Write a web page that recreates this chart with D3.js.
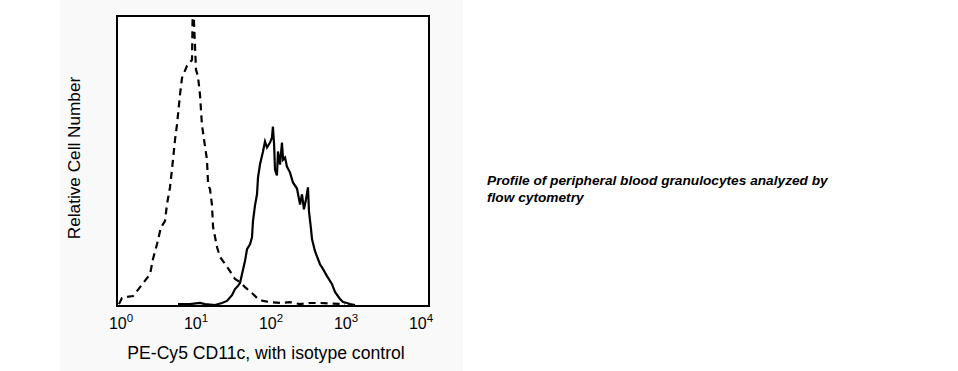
<!DOCTYPE html>
<html>
<head>
<meta charset="utf-8">
<script src="https://cdn.jsdelivr.net/npm/d3@7"></script>
<style>
  body { margin: 0; background: #ffffff; }
  svg { display: block; }
</style>
</head>
<body>
<div id="chart"></div>
<script>
// isotype control (dashed) - intensity / relative count
const isoX = [0.94, 1.03, 1.2, 1.45, 1.85, 2.44, 2.67, 3.02, 3.41, 3.86, 4.1, 4.5, 4.94, 5.25, 5.58, 6.12, 6.51, 7.59, 8.32, 8.85, 9.12, 9.4, 10.0, 10.6, 11.3, 12.0, 12.8, 14.0, 14.5, 15.4, 16.3, 16.9, 19.1, 20.9, 22.9, 25.1, 28.4, 33.1, 38.6, 45.0, 57.5, 67.1, 78.2, 97, 132, 179, 244, 331, 450, 970];
const isoY = [0.3, 2.4, 2.8, 3.1, 6.6, 10.7, 15.9, 21.0, 26.9, 29.0, 34.8, 40.7, 50.3, 57.2, 62.4, 72.8, 78.6, 82.8, 84.1, 84.8, 110, 98, 81.4, 79.3, 72.8, 62.4, 57.2, 50.3, 41.7, 40.0, 34.8, 26.9, 20.0, 16.6, 15.2, 13.8, 11.7, 9.0, 7.9, 6.2, 3.8, 2.1, 1.4, 1.0, 0.7, 1.0, 0.3, 0.7, 0.7, 0.3];

// PE-Cy5 CD11c (solid)
const cdX = [5.75, 8.3, 11.3, 13.2, 17.9, 22.2, 25.9, 30.2, 33.1, 36.3, 38.6, 41.1, 45.0, 47.9, 52.5, 55.8, 57.5, 61.2, 65.1, 67.1, 71.3, 78.2, 83.2, 88.5, 97, 103, 106, 110, 113, 120, 124, 132, 140, 145, 154, 163, 179, 196, 222, 244, 259, 275, 293, 311, 321, 342, 352, 386, 450, 494, 558, 651, 713, 832, 912, 1030, 1130, 1320];
const cdY = [0.3, 0.3, 0.7, 0.3, 0, 0.7, 1.4, 3.4, 5.5, 6.6, 7.6, 10.7, 15.2, 19.3, 21.0, 23.4, 29.0, 34.5, 38.3, 44.1, 48.6, 53.1, 56.6, 54.5, 56.2, 57.9, 61.7, 55.5, 46.9, 44.8, 53.1, 48.6, 56.2, 50.3, 51.0, 47.9, 45.9, 42.4, 40.3, 34.8, 38.3, 33.1, 36.6, 40.7, 32.4, 26.2, 22.8, 18.6, 14.1, 12.4, 10.0, 7.2, 4.5, 2.1, 1.0, 0.7, 0.3, 0];

const tickVals = [1, 10, 100, 1000, 10000];
const tickExp = ["0", "1", "2", "3", "4"];

const xTitle = "PE-Cy5 CD11c, with isotype control";
const yTitle = "Relative Cell Number";
const caption = ["Profile of peripheral blood granulocytes analyzed by", "flow cytometry"];

const W = 958, H = 371;
const box = { left: 117, top: 16, right: 429, bottom: 306 };

const svg = d3.select("#chart").append("svg")
    .attr("width", W)
    .attr("height", H);

// grey panel behind the plot
svg.append("rect")
    .attr("x", 60).attr("y", 0)
    .attr("width", 403).attr("height", H)
    .attr("fill", "#f9f9f9");

// SCALES
const x = d3.scaleLog()
    .domain([1, 10000])
    .range([121, 421]);

const y = d3.scaleLinear()
    .domain([0, 100])
    .range([box.bottom - 1, box.top]);

svg.append("clipPath").attr("id", "clip")
    .append("rect")
    .attr("x", box.left).attr("y", box.top)
    .attr("width", box.right - box.left)
    .attr("height", box.bottom - box.top);

svg.append("rect")
    .attr("x", box.left).attr("y", box.top)
    .attr("width", box.right - box.left)
    .attr("height", box.bottom - box.top)
    .attr("fill", "#ffffff");

const line = d3.line()
    .x(d => x(d[0]))
    .y(d => y(d[1]));

const plot = svg.append("g").attr("clip-path", "url(#clip)");

plot.append("path")
    .datum(d3.zip(isoX, isoY))
    .attr("d", line)
    .attr("fill", "none")
    .attr("stroke", "#000")
    .attr("stroke-width", 2.2)
    .attr("stroke-dasharray", "7,5");

plot.append("path")
    .datum(d3.zip(cdX, cdY))
    .attr("d", line)
    .attr("fill", "none")
    .attr("stroke", "#000")
    .attr("stroke-width", 2.2);

// frame
svg.append("rect")
    .attr("x", box.left).attr("y", box.top)
    .attr("width", box.right - box.left)
    .attr("height", box.bottom - box.top)
    .attr("fill", "none")
    .attr("stroke", "#000")
    .attr("stroke-width", 2);

// tick labels 10^n
const font = "'Liberation Sans', Arial, sans-serif";
const ticks = svg.append("g").attr("font-family", font).attr("fill", "#000");
tickVals.forEach((v, i) => {
    const t = ticks.append("text")
        .attr("x", x(v))
        .attr("y", 329)
        .attr("text-anchor", "middle")
        .attr("font-size", 16);
    t.append("tspan").text("10");
    t.append("tspan")
        .attr("dy", -7)
        .attr("font-size", 11.5)
        .text(tickExp[i]);
});

svg.append("text")
    .attr("x", 266).attr("y", 359)
    .attr("text-anchor", "middle")
    .attr("font-family", font)
    .attr("font-size", 17.6)
    .text(xTitle);

svg.append("text")
    .attr("transform", "translate(80,158) rotate(-90)")
    .attr("text-anchor", "middle")
    .attr("font-family", font)
    .attr("font-size", 17.2)
    .text(yTitle);

svg.append("g")
    .selectAll("text")
    .data(caption)
    .join("text")
    .attr("x", 487)
    .attr("y", (d, i) => 185 + i * 17)
    .attr("font-family", font)
    .attr("font-size", 13.7)
    .attr("font-weight", "bold")
    .attr("font-style", "italic")
    .text(d => d);
</script>
</body>
</html>
